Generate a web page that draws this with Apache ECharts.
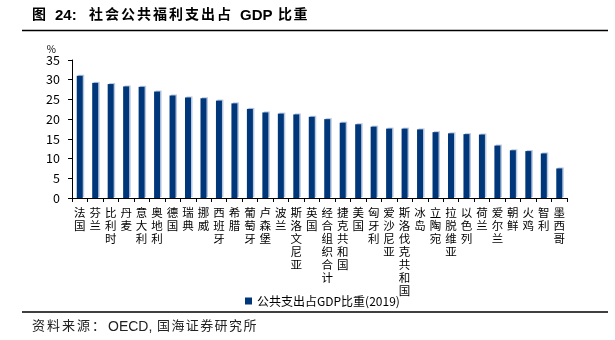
<!DOCTYPE html>
<html><head><meta charset="utf-8">
<script src="https://cdn.jsdelivr.net/npm/echarts@6/dist/echarts.min.js"></script>
<style>html,body{margin:0;padding:0;background:#fff}#c{width:615px;height:340px}</style>
</head><body><div id="c"></div>
<script>
const categories = ['法国','芬兰','比利时','丹麦','意大利','奥地利','德国','瑞典','挪威','西班牙','希腊','葡萄牙','卢森堡','波兰','斯洛文尼亚','英国','经合组织合计','捷克共和国','美国','匈牙利','爱沙尼亚','斯洛伐克共和国','冰岛','立陶宛','拉脱维亚','以色列','荷兰','爱尔兰','朝鲜','火鸡','智利','墨西哥'];
const values = [31.0,29.2,28.9,28.3,28.2,27.0,26.0,25.5,25.3,24.7,24.0,22.6,21.7,21.4,21.2,20.6,20.0,19.1,18.7,18.1,17.6,17.6,17.4,16.7,16.4,16.2,16.1,13.3,12.1,11.9,11.3,7.5];
const seriesName = '公共支出占GDP比重(2019)';
const titleParts = ['图','24:','社会公共福利支出占','GDP','比重'];
const sourceParts = ['资料来源：','OECD,','国海证券研究所'];
const yMin = 0, yMax = 35, yInterval = 5;

const font = '"Noto Sans CJK SC","Noto Sans",sans-serif';
const latin = '"Liberation Sans",Arial,sans-serif';
function spaced(str, x, y, step, style){
  return str.split('').map((ch,i)=>({type:'text',left:x+i*step,top:y,silent:true,
    style:Object.assign({text:ch,fontFamily:font},style)}));
}
const tStyle = {fontSize:14,fontWeight:'bold',fill:'#000'};
const sStyle = {fontSize:13,fill:'#222'};
const graphics = [].concat(
  spaced(titleParts[0],32,7,16,tStyle),
  [{type:'text',left:55,top:8,style:Object.assign({},tStyle,{text:titleParts[1],fontFamily:latin,fontSize:15})}],
  spaced(titleParts[2],89,7,16,tStyle),
  [{type:'text',left:240,top:8,style:Object.assign({},tStyle,{text:titleParts[3],fontFamily:latin,fontSize:15})}],
  spaced(titleParts[4],278,7,15.5,tStyle),
  [{type:'line',shape:{x1:22,y1:30.5,x2:608,y2:30.5},style:{stroke:'#000',lineWidth:1.3}},
   {type:'line',shape:{x1:22,y1:312,x2:608,y2:312},style:{stroke:'#000',lineWidth:1.3}}],
  spaced(sourceParts[0],32,319,15,sStyle),
  [{type:'text',left:108,top:320,style:Object.assign({},sStyle,{text:sourceParts[1],fontFamily:latin,fontSize:14})}],
  spaced(sourceParts[2],157,319,14.4,sStyle)
);

const chart = echarts.init(document.getElementById('c'), null, {renderer:'canvas'});
chart.setOption({
  animation:false,
  textStyle:{fontFamily:font},
  grid:{left:72,right:48,top:60,bottom:142,containLabel:false},
  legend:{
    data:[seriesName], left:240, top:290, icon:'rect', itemWidth:7, itemHeight:7, itemGap:4,
    textStyle:{fontSize:12,color:'#000',fontFamily:font}
  },
  xAxis:{
    type:'category', data:categories,
    axisLine:{lineStyle:{color:'#000',width:1}},
    axisTick:{show:true,length:4,lineStyle:{color:'#000'}},
    axisLabel:{interval:0,margin:8,fontSize:11.5,lineHeight:13,color:'#000',verticalAlign:'top',
      formatter:v=>v.split('').join('\n')}
  },
  yAxis:{
    type:'value', min:yMin, max:yMax, interval:yInterval,
    name:'%', nameLocation:'end', nameGap:6,
    nameTextStyle:{fontSize:10,color:'#000',align:'right',padding:[0,16,0,0]},
    axisLine:{show:true,lineStyle:{color:'#000'}},
    axisTick:{show:true,length:4,lineStyle:{color:'#000'}},
    axisLabel:{fontSize:12.5,color:'#000',margin:12},
    splitLine:{show:false}
  },
  series:[{
    name:seriesName, type:'bar', data:values, barWidth:6,
    itemStyle:{color:'#00377a',shadowColor:'#b8c8e0',shadowOffsetX:1.5,shadowOffsetY:-1,shadowBlur:0}
  }],
  graphic:graphics
});
</script></body></html>
